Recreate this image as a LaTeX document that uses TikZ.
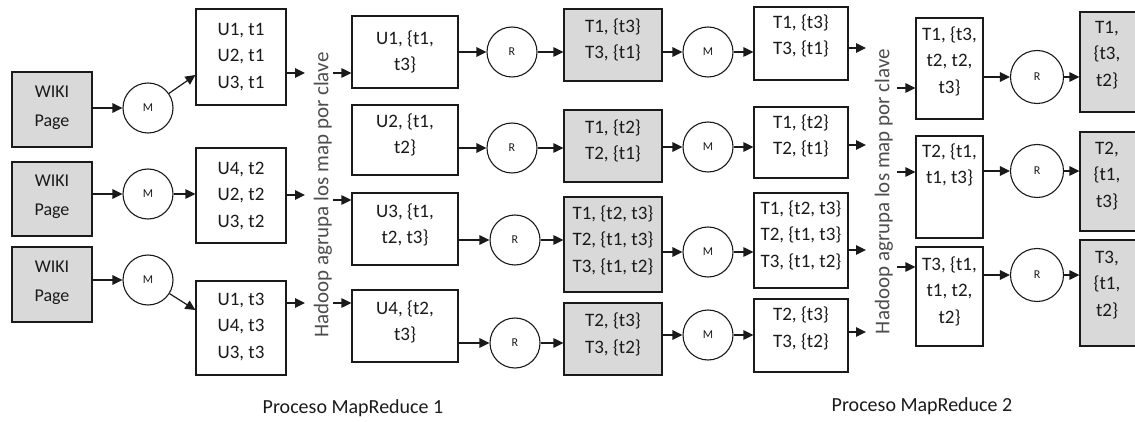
\documentclass[tikz,border=0pt]{standalone}
\usepackage{fontspec}
\setmainfont{Carlito}
\usetikzlibrary{arrows.meta,calc}
\definecolor{boxgray}{HTML}{D9D9D9}
\definecolor{ink}{HTML}{1A1A1A}
\definecolor{vink}{HTML}{4D4D4D}
\begin{document}
\begin{tikzpicture}[x=1pt,y=-1pt,
  box/.style={draw=ink, line width=1.2pt, inner sep=0pt},
  wbox/.style={box, fill=white},
  gbox/.style={box, fill=boxgray},
  txt/.style={align=center, text=ink, font=\fontsize{19}{26.5}\selectfont, inner sep=0pt},
  wtxt/.style={align=center, text=ink, font=\fontsize{18}{29}\selectfont, inner sep=0pt},
  op/.style={circle, draw=ink, line width=1.1pt, minimum size=50pt, inner sep=0pt, fill=white, text=ink, font=\fontsize{12}{14}\selectfont},
  arr/.style={-{Triangle[length=10pt,width=9.5pt]}, line width=1.2pt, draw=ink},
  vtext/.style={rotate=90, text=vink, font=\fontsize{21}{24}\selectfont, inner sep=0pt},
  caption/.style={text=ink, font=\fontsize{20}{24}\selectfont, inner sep=0pt}
]
\useasboundingbox (0,0) rectangle (1135,422);
\clip (0,0) rectangle (1135,422);

% ---- column 0: WIKI pages
\node[gbox, minimum width=80, minimum height=75] (W1) at (52,109.5) {};
\node[wtxt] (W1t) at (52,107.5) {WIKI\\Page};
\node[gbox, minimum width=80, minimum height=74] (W2) at (52,199) {};
\node[wtxt] (W2t) at (52,197) {WIKI\\Page};
\node[gbox, minimum width=80, minimum height=75] (W3) at (52,284.5) {};
\node[wtxt] (W3t) at (52,282.5) {WIKI\\Page};

% ---- map 1
\node[op] (M1) at (148,108) {M};
\node[op] (M2) at (148,194) {M};
\node[op] (M3) at (148,280) {M};

% ---- U boxes
\node[wbox, minimum width=90, minimum height=96] (U1) at (241,57) {};
\node[txt] (U1t) at (241,57) {U1, t1\\U2, t1\\U3, t1};
\node[wbox, minimum width=90, minimum height=95] (U2) at (241,195.5) {};
\node[txt] (U2t) at (241,196) {U4, t2\\U2, t2\\U3, t2};
\node[wbox, minimum width=90, minimum height=94] (U3) at (241,328) {};
\node[txt] (U3t) at (241,327) {U1, t3\\U4, t3\\U3, t3};

% ---- grouping text 1
\node[vtext] (V1) at (323,195) {Hadoop agrupa los map por clave};
\coordinate (a1) at (305,73);
\coordinate (a2) at (305,195);
\coordinate (a3) at (305,303);
\coordinate (b1) at (333,73);
\coordinate (b3) at (333,200);
\coordinate (b4) at (333,303);

% ---- B boxes
\node[wbox, minimum width=106, minimum height=72] (B1) at (405,52) {};
\node[txt] (B1t) at (405,52) {U1, \{t1,\\t3\}};
\node[wbox, minimum width=106, minimum height=70] (B2) at (405,140) {};
\node[txt] (B2t) at (405,135) {U2, \{t1,\\t2\}};
\node[wbox, minimum width=106, minimum height=72] (B3) at (405,229) {};
\node[txt] (B3t) at (405,225) {U3, \{t1,\\t2, t3\}};
\node[wbox, minimum width=106, minimum height=72] (B4) at (405,326) {};
\node[txt] (B4t) at (405,322) {U4, \{t2,\\t3\}};

% ---- reduce 1
\node[op] (R1) at (512,52) {R};
\node[op] (R2) at (512,148) {R};
\node[op] (R3) at (515,240) {R};
\node[op] (R4) at (515,343) {R};

% ---- G boxes (gray)
\node[gbox, minimum width=98, minimum height=72] (G1) at (613,45) {};
\node[txt] (G1t) at (613,40) {T1, \{t3\}\\T3, \{t1\}};
\node[gbox, minimum width=98, minimum height=72] (G2) at (613,146) {};
\node[txt] (G2t) at (613,141) {T1, \{t2\}\\T2, \{t1\}};
\node[gbox, minimum width=98, minimum height=95] (G3) at (613,244.5) {};
\node[txt] (G3t) at (613,240) {T1, \{t2, t3\}\\T2, \{t1, t3\}\\T3, \{t1, t2\}};
\node[gbox, minimum width=98, minimum height=72] (G4) at (613,339) {};
\node[txt] (G4t) at (613,334.5) {T2, \{t3\}\\T3, \{t2\}};

% ---- map 2
\node[op] (N1) at (708,52) {M};
\node[op] (N2) at (708,147) {M};
\node[op] (N3) at (708,252) {M};
\node[op] (N4) at (708,335) {M};

% ---- C boxes
\node[wbox, minimum width=94, minimum height=73] (C1) at (801,43.5) {};
\node[txt] (C1t) at (801,36) {T1, \{t3\}\\T3, \{t1\}};
\node[wbox, minimum width=94, minimum height=71] (C2) at (801,142.5) {};
\node[txt] (C2t) at (801,136) {T1, \{t2\}\\T2, \{t1\}};
\node[wbox, minimum width=94, minimum height=95] (C3) at (801,240.5) {};
\node[txt] (C3t) at (801,235) {T1, \{t2, t3\}\\T2, \{t1, t3\}\\T3, \{t1, t2\}};
\node[wbox, minimum width=94, minimum height=73] (C4) at (801,335.5) {};
\node[txt] (C4t) at (801,328.5) {T2, \{t3\}\\T3, \{t2\}};

% ---- grouping text 2
\node[vtext] (V2) at (884,191.5) {Hadoop agrupa los map por clave};
\coordinate (c1) at (866,48);
\coordinate (c2) at (866,145);
\coordinate (c3) at (866,250);
\coordinate (c4) at (866,332);
\coordinate (d1) at (897,88);
\coordinate (d2) at (897,172);
\coordinate (d3) at (897,267);

% ---- D boxes
\node[wbox, minimum width=67, minimum height=101] (D1) at (949.5,68.5) {};
\node[txt] (D1t) at (949.5,61) {T1, \{t3,\\t2, t2,\\t3\}};
\node[wbox, minimum width=67, minimum height=102] (D2) at (949.5,187) {};
\node[txt] (D2t) at (949.5,165) {T2, \{t1,\\t1, t3\}};
\node[wbox, minimum width=67, minimum height=99] (D3) at (949.5,296.5) {};
\node[txt] (D3t) at (949.5,291) {T3, \{t1,\\t1, t2,\\t2\}};

% ---- reduce 2
\node[op, minimum size=53pt] (S1) at (1037,77) {R};
\node[op, minimum size=53pt] (S2) at (1037,171) {R};
\node[op, minimum size=53pt] (S3) at (1037,275) {R};

% ---- E boxes (gray, cut at right edge)
\node[gbox, minimum width=66, minimum height=100] (E1) at (1113,62) {};
\node[txt] (E1t) at (1107,55) {T1,\\\{t3,\\t2\}};
\node[gbox, minimum width=66, minimum height=99] (E2) at (1113,181.5) {};
\node[txt] (E2t) at (1107,176) {T2,\\\{t1,\\t3\}};
\node[gbox, minimum width=66, minimum height=106] (E3) at (1113,293) {};
\node[txt] (E3t) at (1107,285) {T3,\\\{t1,\\t2\}};

% ---- captions
\node[caption] (P1) at (353,408) {Proceso MapReduce 1};
\node[caption] (P2) at (922,406) {Proceso MapReduce 2};

% ---- connectors
\draw[arr] (W1.east |- M1) -- (M1);
\draw[arr] (W2.east |- M2) -- (M2);
\draw[arr] (W3.east |- M3) -- (M3);
\draw[arr] (M1) -- ($(U1.west)+(0,18)$);
\draw[arr] (M2) -- (M2 -| U2.west);
\draw[arr] (M3) -- ($(U3.west)+(0,-18)$);

\draw[arr] (U1.east |- a1) -- (a1);
\draw[arr] (U2.east |- a2) -- (a2);
\draw[arr] (U3.east |- a3) -- (a3);
\draw[arr] (b1) -- (b1 -| B1.west);
\draw[arr] (b3) -- (b3 -| B3.west);
\draw[arr] (b4) -- (b4 -| B4.west);

\draw[arr] (B1.east |- R1) -- (R1);
\draw[arr] (B2.east |- R2) -- (R2);
\draw[arr] (B3.east |- R3) -- (R3);
\draw[arr] (B4.east |- R4) -- (R4);
\draw[arr] (R1) -- (R1 -| G1.west);
\draw[arr] (R2) -- (R2 -| G2.west);
\draw[arr] (R3) -- (R3 -| G3.west);
\draw[arr] (R4) -- (R4 -| G4.west);

\draw[arr] (G1.east |- N1) -- (N1);
\draw[arr] (G2.east |- N2) -- (N2);
\draw[arr] (G3.east |- N3) -- (N3);
\draw[arr] (G4.east |- N4) -- (N4);
\draw[arr] (N1) -- (N1 -| C1.west);
\draw[arr] (N2) -- (N2 -| C2.west);
\draw[arr] (N3) -- (N3 -| C3.west);
\draw[arr] (N4) -- (N4 -| C4.west);

\draw[arr] (C1.east |- c1) -- (c1);
\draw[arr] (C2.east |- c2) -- (c2);
\draw[arr] (C3.east |- c3) -- (c3);
\draw[arr] (C4.east |- c4) -- (c4);
\draw[arr] (d1) -- (d1 -| D1.west);
\draw[arr] (d2) -- (d2 -| D2.west);
\draw[arr] (d3) -- (d3 -| D3.west);

\draw[arr] (D1.east |- S1) -- (S1);
\draw[arr] (D2.east |- S2) -- (S2);
\draw[arr] (D3.east |- S3) -- (S3);
\draw[arr] (S1) -- (S1 -| E1.west);
\draw[arr] (S2) -- (S2 -| E2.west);
\draw[arr] (S3) -- (S3 -| E3.west);
\end{tikzpicture}
\end{document}
